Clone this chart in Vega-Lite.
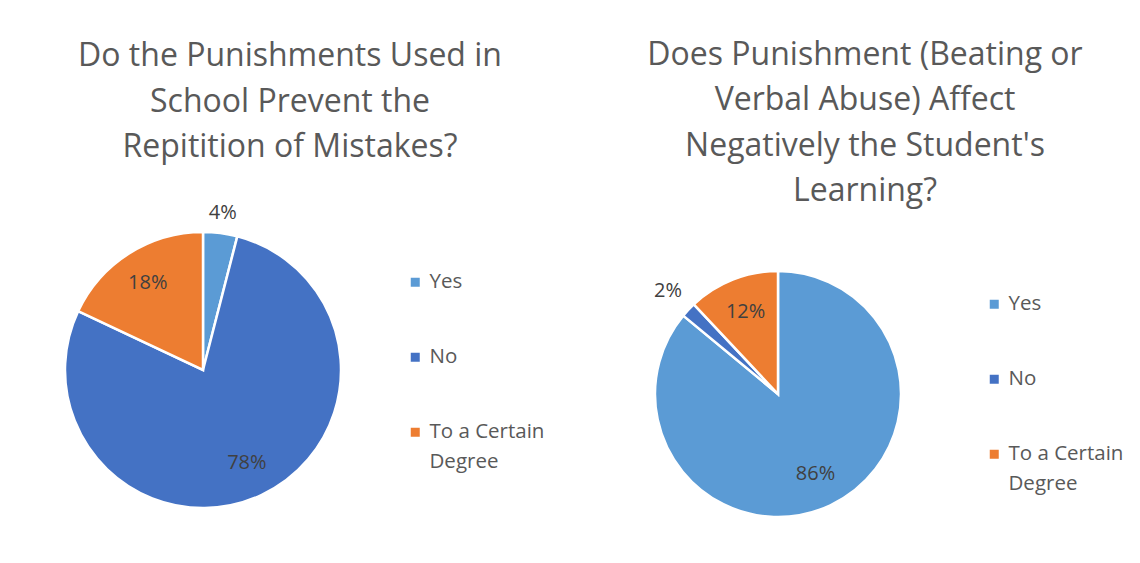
{
  "$schema": "https://vega.github.io/schema/vega-lite/v6.json",
  "background": "white",
  "padding": {"left": 53, "top": 38, "right": 0, "bottom": 0},
  "autosize": {"type": "pad"},
  "spacing": 83,
  "resolve": {"legend": {"color": "independent"}},
  "config": {
    "view": {"stroke": null},
    "font": "Open Sans",
    "style": {"guide-label": {"lineHeight": 30}},
    "title": {"font": "Open Sans", "fontSize": 32, "fontWeight": "normal", "color": "#595959", "lineHeight": 45.5, "anchor": "middle", "frame": "group", "dx": 87},
    "legend": {"orient": "none", "title": null, "symbolType": "square", "symbolSize": 81, "symbolStrokeWidth": 0, "labelFontSize": 20.5, "labelColor": "#595959", "labelFont": "Open Sans", "rowPadding": 54, "labelLimit": 300, "labelOffset": 4}
  },
  "datasets": {
    "prevent": [
      {"answer": "Yes", "idx": 1, "pct": 0.04},
      {"answer": "No", "idx": 2, "pct": 0.78},
      {"answer": "To a Certain Degree", "idx": 3, "pct": 0.18}
    ],
    "affect": [
      {"answer": "Yes", "idx": 1, "pct": 0.86},
      {"answer": "No", "idx": 2, "pct": 0.02},
      {"answer": "To a Certain Degree", "idx": 3, "pct": 0.12}
    ]
  },
  "hconcat": [
    {
      "width": 300,
      "height": 300,
      "title": {"text": ["Do the Punishments Used in", "School Prevent the", "Repitition of Mistakes?"], "offset": 39},
      "data": {"name": "prevent"},
      "encoding": {
        "theta": {"field": "pct", "type": "quantitative", "stack": true},
        "order": {"field": "idx", "type": "quantitative"}
      },
      "layer": [
        {
          "mark": {"type": "arc", "outerRadius": 138, "stroke": "white", "strokeWidth": 2.5},
          "encoding": {
            "color": {"field": "answer", "type": "nominal",
              "scale": {"domain": ["Yes", "No", "To a Certain Degree"], "range": ["#5B9BD5", "#4472C4", "#ED7D31"]},
              "legend": {"legendX": 352, "legendY": 52, "labelExpr": "datum.label == 'To a Certain Degree' ? ['To a Certain', 'Degree'] : datum.label"}}
          }
        },
        {
          "mark": {"type": "text", "fontSize": 20, "color": "#404040", "font": "Open Sans"},
          "encoding": {
            "radius": {"field": "pct", "type": "quantitative", "scale": {"domain": [0.04, 0.1], "range": [158, 103], "clamp": true}},
            "text": {"field": "pct", "type": "quantitative", "format": ".0%"}
          }
        }
      ]
    },
    {
      "width": 300,
      "height": 348,
      "title": {"text": ["Does Punishment (Beating or", "Verbal Abuse) Affect", "Negatively the Student's", "Learning?"], "offset": 12},
      "data": {"name": "affect"},
      "encoding": {
        "theta": {"field": "pct", "type": "quantitative", "stack": true},
        "order": {"field": "idx", "type": "quantitative"}
      },
      "layer": [
        {
          "mark": {"type": "arc", "outerRadius": 123, "stroke": "white", "strokeWidth": 2.5},
          "encoding": {
            "color": {"field": "answer", "type": "nominal",
              "scale": {"domain": ["Yes", "No", "To a Certain Degree"], "range": ["#5B9BD5", "#4472C4", "#ED7D31"]},
              "legend": {"legendX": 356, "legendY": 74, "labelExpr": "datum.label == 'To a Certain Degree' ? ['To a Certain', 'Degree'] : datum.label"}}
          }
        },
        {
          "mark": {"type": "text", "fontSize": 20, "color": "#404040", "font": "Open Sans"},
          "encoding": {
            "radius": {"field": "pct", "type": "quantitative", "scale": {"domain": [0.02, 0.08], "range": [151, 88], "clamp": true}},
            "text": {"field": "pct", "type": "quantitative", "format": ".0%"}
          }
        }
      ]
    }
  ]
}
